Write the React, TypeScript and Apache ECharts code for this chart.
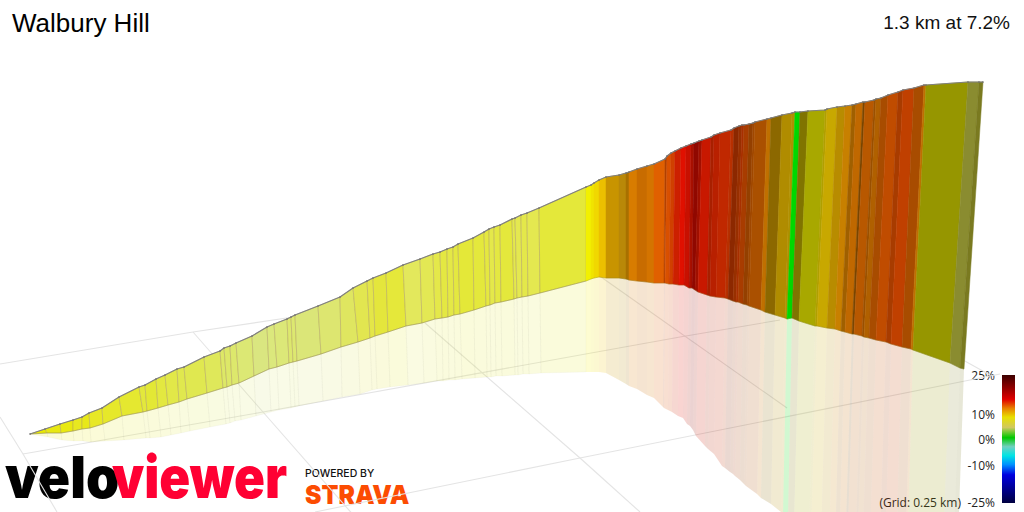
import React, { useEffect, useRef } from "react";
import * as echarts from "echarts";

const title = "Walbury Hill";
const summary = "1.3 km at 7.2%";
const legendLabels = ["25%", "10%", "0%", "-10%", "-25%"];
const gridNote = "(Grid: 0.25 km)";

const topX = [30,45,60,73,82,89,102,119,139,145,156,165,177,184,204,220,224,230,236,252,267,274,287,291,295,318,340,353,367,373,386,403,420,433,440,447,453,458,473,484,489,494,500,512,515,521,527,539,586,591,594,599,606,619,626,629,637,647,654,665,667,671,675,681,686,691,694,699,702,711,714,720,731,734,739,742,744,749,753,755,767,771,782,792,795,800,808,825,827,837,845,852,856,863,865,874,876,881,888,898,903,914,924,926,968,979,983];
const topY = [434,429,424,420,417,413,408,397,387,385,379,375,369,367,357,351,348,346,343,336,327,324,319,317,315,306,297,288,281,278,273,265,259,254,252,249,247,244,238,232,229,227,225,219,218,215,213,208,187,185,183,180,177,175,173,172,169,166,164,159,156,153,151,148,146,144,143,141,140,137,135,133,130,128,126,125,125,124,123,122,119,118,115,113,112,112,111,110,109,107,106,105,104,102,102,100,99,98,95,92,90,88,85,85,82,82,82];
const baseX = [30,47,61,73,82,90,103,122,143,147,158,168,179,187,207,223,227,232,239,254,269,277,289,293,297,321,341,358,370,375,388,406,422,435,442,448,454,460,474,486,490,495,501,514,517,522,528,540,586,591,594,599,606,619,626,629,637,647,654,664,665,669,673,679,684,689,692,695,698,707,710,716,725,728,733,736,738,743,747,749,761,765,775,785,787,792,799,815,817,827,835,841,845,852,854,862,864,869,876,886,891,902,911,913,950,960,964];
const baseY = [434,433,433,431,429,428,424,416,412,411,408,405,402,399,393,388,387,385,383,376,369,367,363,362,361,354,347,342,338,336,332,326,323,319,318,317,315,314,310,306,305,303,302,299,298,297,296,293,281,279,278,277,278,278,279,280,281,282,283,283,283,284,284,285,285,288,288,290,292,295,296,297,298,299,301,302,302,304,305,306,310,312,315,318,319,318,321,326,326,328,329,331,332,334,334,336,337,338,340,342,344,347,349,350,363,368,369];
const mirrorX = [30,48,62,74,83,91,105,124,146,150,161,171,181,190,210,226,230,235,241,256,271,279,291,295,299,323,342,360,372,377,390,408,424,437,443,449,455,462,475,487,491,496,502,515,518,523,529,541,586,591,594,599,606,619,626,629,637,647,654,663,664,668,672,678,683,687,690,693,696,705,708,714,722,725,730,733,735,740,744,746,757,761,771,781,783,788,794,809,811,821,829,835,839,845,847,855,857,862,869,879,884,895,904,906,940,950,954];
const mirrorY = [434,437,440,441,441,442,441,440,438,438,437,435,433,431,427,424,423,421,420,416,412,410,408,407,406,401,397,394,390,389,387,385,383,381,381,380,380,379,378,377,377,376,376,375,375,374,374,373,372,372,372,372,373,380,384,386,389,395,398,407,408,410,412,416,418,424,426,430,436,446,449,454,466,468,472,474,476,480,484,486,494,498,504,512,514,518,524,533,534,540,545,549,552,556,557,562,563,567,572,580,585,595,600,602,630,650,656];
const slopeColors = ["#e9e900","#e8e812","#e9e910","#e8e820","#e8e818","#e8e825","#e6e82a","#e5e830","#e3e83c","#e3e835","#e3e840","#e2e848","#e0e84e","#e0e850","#dfe85a","#dde866","#dde868","#dde86c","#dce874","#dae680","#dbe87c","#dce878","#dde86e","#dde870","#dbe678","#dde670","#dfe660","#e2e650","#e4e648","#e4e63c","#e5e83a","#e3e85c","#e3e854","#e4e84a","#e4e842","#e4e846","#e4e840","#e4e838","#e4e83c","#e5e840","#e4e84a","#e4e842","#e4e83c","#e4e84c","#e4e850","#e4e84a","#e4e850","#e4e83a","#f2f000","#f0e400","#f0d800","#ecc000","#c89400","#b98808","#a87000","#d87c00","#c86c00","#d47400","#e06000","#b04000","#d85000","#d04000","#cc2000","#e01000","#c81000","#a81000","#900800","#a01000","#c81800","#a82000","#b82000","#c02800","#b83000","#8c2800","#983000","#a83000","#a83c00","#944000","#a04800","#aa5000","#c07000","#8c6800","#b08c00","#b09000","#00d800","#807400","#a8a800","#b0a000","#c8a800","#b88c00","#c88000","#a06000","#c06800","#7a4600","#b85800","#9a5000","#b06000","#a84c00","#c04c00","#a83c00","#c04000","#a84c00","#c07000","#969600","#8a8c30","#7a7a20"];

const gridLines = [
  [0,364,193,332],[193,332,300,316],[23,454,263,412],[263,412,680,337],[680,337,780,320],
  [315,512,580,458],[580,458,970,380],[970,380,1000,374],
  [0,417,23,454],[23,454,57,512],[193,332,263,412],[263,412,355,517],
  [425,323,580,458],[580,458,640,512],[601,277,787,408],[963,360,990,375],
];

const gradientStops: [number, string][] = [
  [0,"#3c0000"],[0.1,"#900000"],[0.19,"#e00000"],[0.26,"#e88000"],[0.33,"#e8e000"],[0.41,"#d0c860"],
  [0.49,"#00c800"],[0.56,"#70d0c0"],[0.63,"#00e4e4"],[0.7,"#0090ff"],[0.78,"#0000e0"],[1,"#000040"],
];

const rows = slopeColors.map((c, i) => [
  topX[i], topY[i], baseX[i], baseY[i], mirrorX[i], mirrorY[i],
  topX[i + 1], topY[i + 1], baseX[i + 1], baseY[i + 1], mirrorX[i + 1], mirrorY[i + 1], i,
]);

function ribbon(upper: [number, number], lower: [number, number], alpha: number, solid: boolean) {
  return (_: any, api: any) => {
    const i = api.value(12);
    const pts = [
      api.coord([api.value(upper[0]), api.value(upper[0] + 1)]),
      api.coord([api.value(upper[1]), api.value(upper[1] + 1)]),
      api.coord([api.value(lower[1]), api.value(lower[1] + 1)]),
      api.coord([api.value(lower[0]), api.value(lower[0] + 1)]),
    ];
    const leftPart = api.value(0) < 586;
    const style: any = { fill: slopeColors[i], opacity: alpha };
    if (solid) {
      style.stroke = leftPart ? "rgba(175,160,95,0.45)" : slopeColors[i];
      style.lineWidth = leftPart ? 1 : 0.5;
    } else if (leftPart) {
      style.stroke = "rgba(150,150,130,0.5)";
      style.lineWidth = 0.6;
    }
    return { type: "polygon", shape: { points: pts }, style };
  };
}

export default function App() {
  const ref = useRef<HTMLDivElement>(null);
  useEffect(() => {
    document.body.style.margin = "0";
    const chart = echarts.init(ref.current!, undefined, { renderer: "svg" });
    const sans = "Liberation Sans";
    const note = "Open Sans";
    const legendY = [375, 414, 439, 465, 502];
    const labelText = (text: string, y: number) => ({
      type: "text", x: 995, y,
      style: { text, fontFamily: note, fontSize: 12, fill: "#222", textAlign: "right", textVerticalAlign: "middle" },
    });
    chart.setOption({
      animation: false,
      backgroundColor: "#fff",
      grid: { left: 0, right: 0, top: 0, bottom: 0 },
      xAxis: { type: "value", min: 0, max: 1024, show: false },
      yAxis: { type: "value", min: 0, max: 512, inverse: true, show: false },
      series: [
        {
          type: "custom", silent: true, z: 1, data: gridLines, encode: { x: [0, 2], y: [1, 3] },
          renderItem: (_: any, api: any) => ({
            type: "line",
            shape: (() => {
              const a = api.coord([api.value(0), api.value(1)]);
              const b = api.coord([api.value(2), api.value(3)]);
              return { x1: a[0], y1: a[1], x2: b[0], y2: b[1] };
            })(),
            style: { stroke: "#e4e4e4", lineWidth: 1.1 },
          }),
        },
        { type: "custom", silent: true, z: 2, data: rows, encode: { x: [2, 4], y: [3, 5] }, renderItem: ribbon([2, 8], [4, 10], 0.18, false) },
        { type: "custom", silent: true, z: 3, data: rows, encode: { x: [0, 2], y: [1, 3] }, renderItem: ribbon([0, 6], [2, 8], 1, true) },
        {
          type: "line", silent: true, z: 4, data: baseX.map((x, i) => [x, baseY[i]]),
          showSymbol: false, lineStyle: { color: "rgba(125,125,50,0.3)", width: 1 },
        },
        {
          type: "line", silent: true, z: 5, data: topX.map((x, i) => [x, topY[i]]),
          symbol: "circle", symbolSize: 1.5, itemStyle: { color: "#6e6e6e" },
          lineStyle: { color: "#808080", width: 1.2 },
        },
      ],
      graphic: [
        { type: "text", x: 12, y: 23, style: { text: title, fontFamily: sans, fontSize: 26, fill: "#000", textVerticalAlign: "middle" } },
        { type: "text", x: 1010, y: 22, style: { text: summary, fontFamily: sans, fontSize: 19, fill: "#111", textAlign: "right", textVerticalAlign: "middle" } },
        {
          type: "rect", shape: { x: 1002, y: 375, width: 13, height: 128 },
          style: { fill: new echarts.graphic.LinearGradient(0, 0, 0, 1, gradientStops.map(([offset, color]) => ({ offset, color }))) },
        },
        ...legendLabels.map((t, i) => labelText(t, legendY[i])),
        { type: "text", x: 961, y: 502, style: { text: gridNote, fontFamily: note, fontSize: 12, fill: "#222", textAlign: "right", textVerticalAlign: "middle" } },
        { type: "text", x: 5, y: 477, scaleX: 0.92, style: { text: "velo", fontFamily: "Inter", fontWeight: 900, fontSize: 58, fill: "#000", textVerticalAlign: "middle" } },
        { type: "text", x: 112, y: 477, scaleX: 0.88, style: { text: "viewer", fontFamily: "Inter", fontWeight: 900, fontSize: 58, fill: "#ff0033", textVerticalAlign: "middle" } },
        { type: "text", x: 305, y: 473, scaleX: 1.05, style: { text: "POWERED BY", fontFamily: "Inter", fontWeight: 500, fontSize: 10, fill: "#111", textVerticalAlign: "middle" } },
        { type: "text", x: 305, y: 494, scaleX: 0.95, style: { text: "STRAVA", fontFamily: "Inter", fontWeight: 900, fontSize: 26, fill: "#fc4c02", textVerticalAlign: "middle" } },
      ],
    });
    return () => chart.dispose();
  }, []);
  return <div ref={ref} style={{ width: 1024, height: 512 }} />;
}
